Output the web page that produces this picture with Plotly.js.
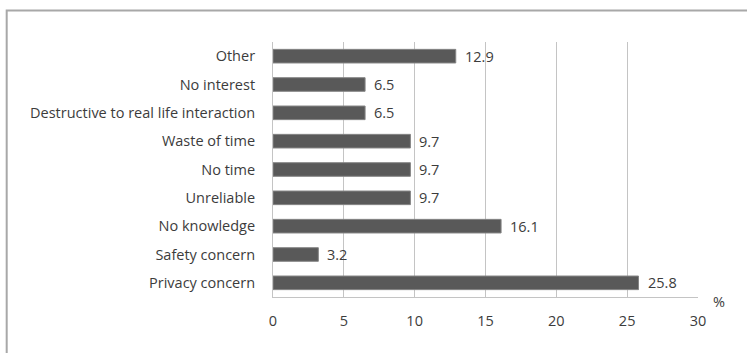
<!DOCTYPE html>
<html>
<head>
<meta charset="utf-8">
<script src="https://cdn.plot.ly/plotly-3.0.1.min.js"></script>
<style>
  html, body { margin: 0; padding: 0; background: #fff; }
  #chart { width: 747px; height: 353px; }
</style>
</head>
<body>
<div id="chart"></div>
<script>
// Reasons for not using the service, listed bottom to top
const reasons = [
  'Privacy concern',
  'Safety concern',
  'No knowledge',
  'Unreliable',
  'No time',
  'Waste of time',
  'Destructive to real life interaction',
  'No interest',
  'Other'
];
const percents = [25.8, 3.2, 16.1, 9.7, 9.7, 9.7, 6.5, 6.5, 12.9];
const xTicks = [0, 5, 10, 15, 20, 25, 30];

const fontFamily = '"Open Sans", Lato, "DejaVu Sans", sans-serif';
const fontSize = 14.5;
const textColor = '#3c3c3c';
const gridColor = '#c4c4c4';

const bars = {
  type: 'bar',
  orientation: 'h',
  x: percents,
  y: reasons,
  marker: { color: '#595959', line: { color: '#858585', width: 1 } },
  hoverinfo: 'x+y'
};

// value labels just past the end of each bar
const valueLabels = percents.map((v, i) => ({
  x: v, y: reasons[i], xref: 'x', yref: 'y',
  text: v.toFixed(1), showarrow: false,
  xanchor: 'left', xshift: 7,
  font: { family: fontFamily, size: fontSize, color: textColor }
}));

const layout = {
  width: 747, height: 353,
  margin: { l: 273, r: 49, t: 42, b: 56 },
  paper_bgcolor: '#fff', plot_bgcolor: '#fff',
  showlegend: false,
  bargap: 0.52,
  font: { family: fontFamily, size: fontSize, color: textColor },
  xaxis: {
    range: [0, 30], tickvals: xTicks, ticktext: xTicks.map(String),
    showgrid: true, gridcolor: gridColor, gridwidth: 1,
    zeroline: false, showline: true, linecolor: gridColor, linewidth: 1,
    ticks: '', ticklabelstandoff: 11, fixedrange: true,
    tickfont: { family: fontFamily, size: fontSize, color: textColor }
  },
  yaxis: {
    showgrid: false, zeroline: false,
    showline: true, linecolor: gridColor, linewidth: 1,
    ticks: '', ticklabelstandoff: 14, fixedrange: true,
    tickfont: { family: fontFamily, size: fontSize, color: textColor }
  },
  annotations: valueLabels.concat([{
    xref: 'paper', yref: 'paper', x: 1, y: 0,
    xanchor: 'center', yanchor: 'middle', xshift: 21, yshift: -4,
    text: '%', showarrow: false,
    font: { family: fontFamily, size: fontSize, color: textColor }
  }]),
  shapes: [{
    // outer chart frame
    type: 'rect', xref: 'paper', yref: 'paper',
    x0: -0.6266, x1: 1.3, y0: -0.35, y1: 1.124,
    line: { color: '#a8a8a8', width: 2 }, fillcolor: 'rgba(0,0,0,0)',
    layer: 'below'
  }]
};

Plotly.newPlot('chart', [bars], layout, { displayModeBar: false, staticPlot: true });
</script>
</body>
</html>
